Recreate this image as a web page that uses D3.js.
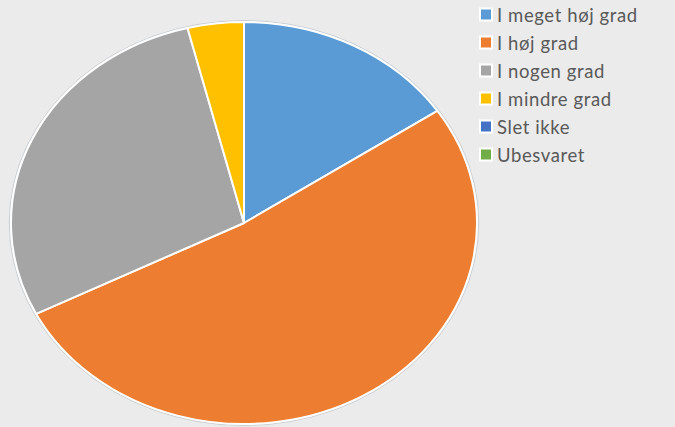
<!DOCTYPE html>
<html>
<head>
<meta charset="utf-8">
<script src="https://cdn.jsdelivr.net/npm/d3@7"></script>
<style>
  body { margin: 0; background: #ebebeb; }
  svg { display: block; }
</style>
</head>
<body>
<div id="chart"></div>
<script>
// answer categories and counts
var categories = ["I meget høj grad", "I høj grad", "I nogen grad", "I mindre grad", "Slet ikke", "Ubesvaret"];
var counts = [12, 40, 22, 3, 0, 0];
var colors = ["#5b9bd5", "#ed7d31", "#a5a5a5", "#ffc000", "#4472c4", "#70ad47"];

var width = 675, height = 427;

var svg = d3.select("#chart")
  .append("svg")
    .attr("width", width)
    .attr("height", height);

svg.append("rect")
    .attr("width", width)
    .attr("height", height)
    .attr("fill", "#ebebeb");

// the pie is stretched into an ellipse
var cx = 244, cy = 223, rx = 233, ry = 201;

var data = categories.map(function(c, i) { return {key: c, value: counts[i], color: colors[i]}; });

var pie = d3.pie()
    .sort(null)
    .value(function(d) { return d.value; });

var arc = d3.arc()
    .innerRadius(0)
    .outerRadius(ry);

var g = svg.append("g")
    .attr("transform", "translate(" + cx + "," + cy + ") scale(" + (rx / ry) + ",1)");

// faint outline round the pie
g.append("circle")
    .attr("r", ry + 1.5)
    .attr("fill", "none")
    .attr("stroke", "#c9ced3")
    .attr("stroke-width", 1)
    .attr("vector-effect", "non-scaling-stroke");

g.selectAll("path")
  .data(pie(data).filter(function(d) { return d.value > 0; }))
  .enter().append("path")
    .attr("d", arc)
    .attr("fill", function(d) { return d.data.color; })
    .attr("stroke", "#ffffff")
    .attr("stroke-width", 2)
    .attr("stroke-linejoin", "round")
    .attr("vector-effect", "non-scaling-stroke");

// legend
var legend = svg.append("g")
    .attr("transform", "translate(479,15)");

var row = legend.selectAll("g")
  .data(data)
  .enter().append("g")
    .attr("transform", function(d, i) { return "translate(0," + (i * 28) + ")"; });

row.append("rect")
    .attr("x", 1)
    .attr("y", -6.5)
    .attr("width", 12)
    .attr("height", 12)
    .attr("fill", function(d) { return d.color; })
    .attr("stroke", "#ffffff")
    .attr("stroke-width", 2);

row.append("text")
    .attr("x", 18)
    .attr("y", 0)
    .attr("dy", "0.36em")
    .attr("font-family", "Lato, 'Open Sans', sans-serif")
    .attr("font-size", 18.5)
    .attr("letter-spacing", 0.6)
    .attr("fill", "#595959")
    .text(function(d) { return d.key; });
</script>
</body>
</html>
